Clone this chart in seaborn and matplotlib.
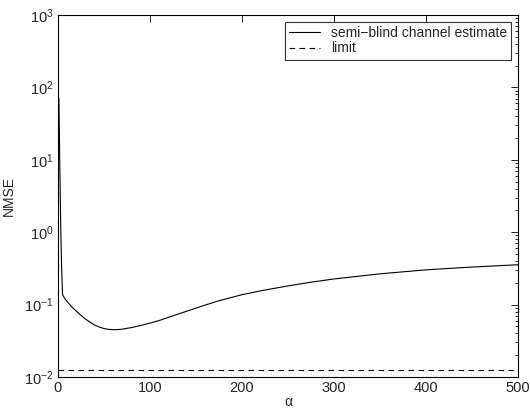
import numpy as np
import pandas as pd
import seaborn as sns
import matplotlib.pyplot as plt
from matplotlib.ticker import LogLocator, MultipleLocator, NullFormatter

alpha = [1, 2, 3, 4, 5, 8, 10, 15, 20, 25, 30, 35, 40, 45, 50, 55, 60, 65,
         70, 80, 90, 100, 110, 120, 130, 140, 150, 160, 175, 200, 225, 250,
         275, 300, 350, 400, 450, 500]
nmse = [70, 8, 1.2, 0.3, 0.136, 0.118, 0.11, 0.093, 0.081, 0.071, 0.063,
        0.057, 0.052, 0.049, 0.0467, 0.0455, 0.045, 0.0452, 0.0458, 0.0482,
        0.0515, 0.0555, 0.0603, 0.0665, 0.0735, 0.081, 0.0895, 0.0985, 0.113,
        0.137, 0.159, 0.181, 0.204, 0.226, 0.266, 0.302, 0.33, 0.355]
limit_alpha = [0, 500]
limit_nmse = [0.0125, 0.0125]

sns.set_style('white')
plt.rcParams['font.family'] = ['Liberation Sans', 'DejaVu Sans']
plt.rcParams['font.size'] = 10

est = pd.DataFrame({'alpha': alpha, 'NMSE': nmse})
lim = pd.DataFrame({'alpha': limit_alpha, 'NMSE': limit_nmse})

fig = plt.figure(figsize=(5.3, 4.11), dpi=100)
ax = fig.add_axes([0.1094, 0.0827, 0.868, 0.881])

sns.lineplot(data=est, x='alpha', y='NMSE', ax=ax, color='black',
             linewidth=0.8, label='semi\u2212blind channel estimate')
sns.lineplot(data=lim, x='alpha', y='NMSE', ax=ax, color='black',
             linewidth=0.8, linestyle=(0, (5, 4)), label='limit')

ax.set_yscale('log')
ax.set_xlim(0, 500)
ax.set_ylim(1e-2, 1e3)
ax.xaxis.set_major_locator(MultipleLocator(100))
ax.yaxis.set_major_locator(LogLocator(base=10, numticks=10))
ax.yaxis.set_minor_locator(LogLocator(base=10, subs=np.arange(2, 10), numticks=10))
ax.yaxis.set_minor_formatter(NullFormatter())

ax.tick_params(which='both', direction='in', top=True, right=True,
               labelsize=10.5, width=0.6, color='black')
ax.tick_params(which='major', length=5, pad=3)
ax.tick_params(which='minor', length=2.5)
for s in ax.spines.values():
    s.set_color('black')
    s.set_linewidth(0.8)

ax.set_xlabel('\u03b1', fontsize=10, labelpad=0)
ax.set_ylabel('NMSE', fontsize=10, labelpad=6)

leg = ax.legend(loc='upper right', fontsize=10, frameon=True, fancybox=False,
                handlelength=2.2, borderpad=0.3, labelspacing=0.1,
                borderaxespad=0.5, handletextpad=0.8)
leg.get_frame().set_edgecolor('black')
leg.get_frame().set_linewidth(0.8)

fig.savefig('out.png', dpi=100)
